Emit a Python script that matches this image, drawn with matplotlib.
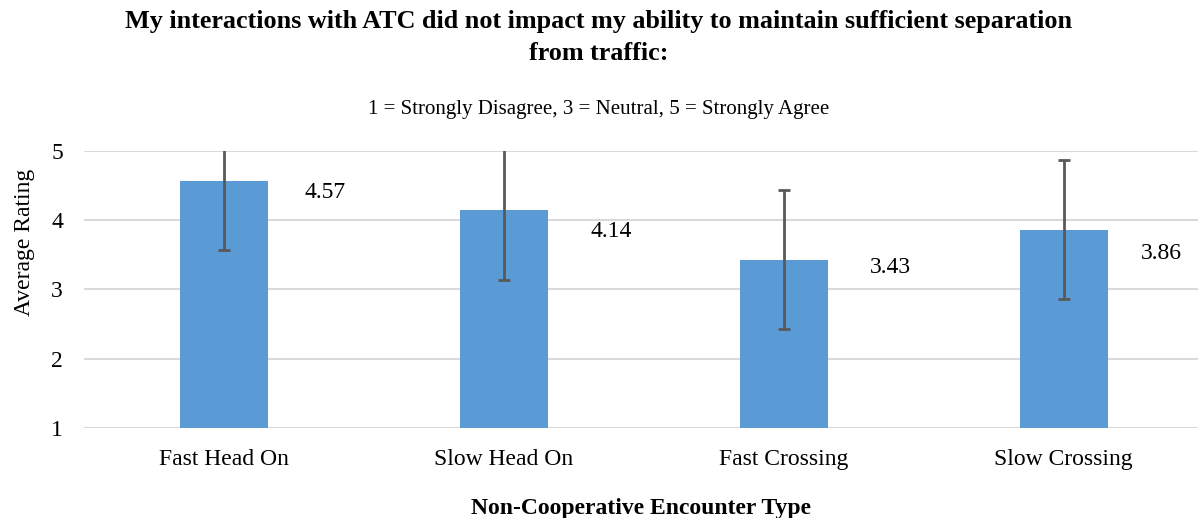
import matplotlib
matplotlib.use("Agg")
import matplotlib.pyplot as plt

# ======================================
# DATA
# ======================================

categories = ["Fast Head On", "Slow Head On", "Fast Crossing", "Slow Crossing"]
ratings = [4.57, 4.14, 3.43, 3.86]
errors = [1.0, 1.0, 1.0, 1.0]
value_labels = ["4.57", "4.14", "3.43", "3.86"]

# label offsets (pixels) to the right of / below bar tops, as in the source
label_dx = [101, 107, 107, 98]
label_dy = [-12, -21, -8, -24]

# ======================================
# PLOT
# ======================================

plt.rcParams["font.family"] = ["Liberation Serif", "DejaVu Serif"]

fig = plt.figure(figsize=(11.98, 5.18), dpi=100)
ax = fig.add_axes([0.070, 0.1737, 0.930, 0.5353])

x = list(range(len(categories)))
ax.bar(x, ratings, width=0.315, bottom=0, color="#5B9BD5", zorder=2)
ax.errorbar(x, ratings, yerr=errors, fmt="none", ecolor="#595959",
            elinewidth=2, capsize=4.5, capthick=2, zorder=3)

for i, lab in enumerate(value_labels):
    ax.annotate(lab, xy=(x[i], ratings[i]), xytext=(label_dx[i] * 0.72, label_dy[i] * 0.72),
                textcoords="offset points", ha="center", va="center", fontsize=17,
                color="#000000")

ax.set_ylim(1, 5)
ax.set_xlim(-0.5, 3.48)
ax.set_yticks([1, 2, 3, 4, 5])
ax.set_xticks(x)
ax.set_xticklabels(categories)
ax.tick_params(axis="both", length=0, labelsize=17)
ax.tick_params(axis="x", pad=15)
ax.tick_params(axis="y", pad=15)
ax.grid(axis="y", color="#d9d9d9", linewidth=1.5, zorder=0)
ax.set_axisbelow(True)
for s in ax.spines.values():
    s.set_visible(False)

ax.set_ylabel("Average Rating", fontsize=17)
ax.yaxis.set_label_coords(-0.044, 0.67)
ax.set_xlabel("Non-Cooperative Encounter Type", fontsize=17, fontweight="bold", labelpad=20)

fig.text(0.5, 0.928, "My interactions with ATC did not impact my ability to maintain sufficient separation\nfrom traffic:",
         ha="center", va="center", fontsize=18.8, fontweight="bold", linespacing=1.5)
fig.text(0.5, 0.789, "1 = Strongly Disagree, 3 = Neutral, 5 = Strongly Agree",
         ha="center", va="center", fontsize=15)

fig.savefig("out.png", dpi=100)
